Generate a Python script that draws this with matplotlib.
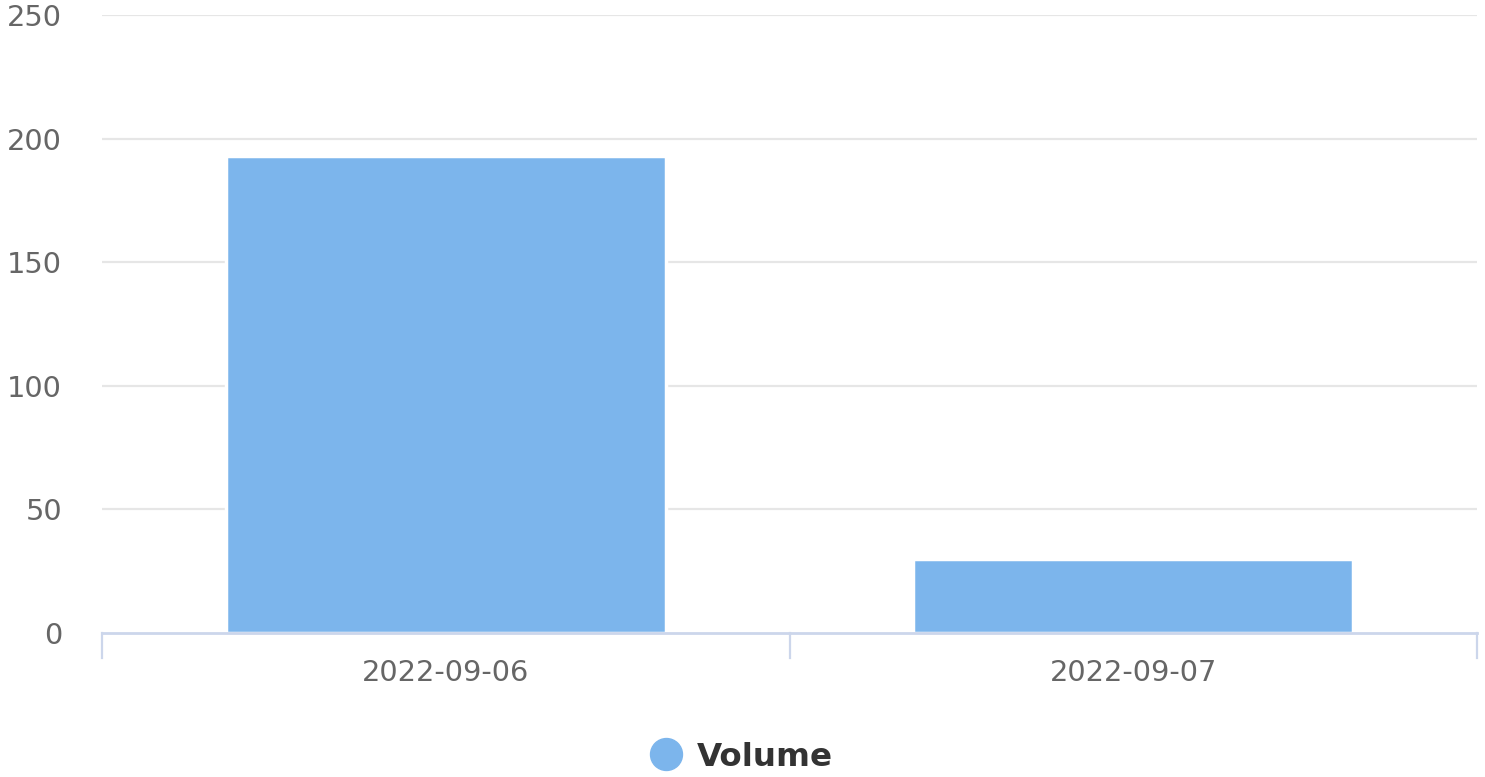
import matplotlib
matplotlib.use("Agg")
import matplotlib.pyplot as plt
import matplotlib.transforms as mtransforms
from matplotlib.lines import Line2D

# ---- data ---------------------------------------------------------------
dates = ["2022-09-06", "2022-09-07"]
volume = [193, 30]
y_ticks = [0, 50, 100, 150, 200, 250]

BAR_COLOR = "#7cb5ec"
GRID_COLOR = "#e6e6e6"
AXIS_COLOR = "#ccd6eb"
LABEL_COLOR = "#666666"

W, H = 1485, 777
fig = plt.figure(figsize=(W / 100, H / 100), dpi=100)
ax = fig.add_axes([102 / W, 1 - 633 / H, (1477 - 102) / W, (633 - 15) / H])

x = list(range(len(dates)))
ax.bar(x, volume, width=0.6407, color=BAR_COLOR, edgecolor="white",
       linewidth=2.5, zorder=2)

ax.set_xlim(-0.5, len(dates) - 0.5)
ax.set_ylim(0, 250)

# gridlines + y labels (drawn by hand, nudged down a few px like highcharts)
ax.set_yticks([])
shift = mtransforms.ScaledTranslation(-40 / 100, -3 / 100, fig.dpi_scale_trans)
for v in y_ticks:
    if v > 0:
        ax.axhline(v, color=GRID_COLOR, linewidth=1.6, zorder=1)
    ax.text(0, v, str(v), transform=ax.get_yaxis_transform() + shift,
            ha="right", va="center", fontsize=20.8, color=LABEL_COLOR)

# x axis: labels at centers, ticks at category boundaries
ax.set_xticks(x)
ax.set_xticklabels(dates)
ax.tick_params(axis="x", length=0, pad=19, labelsize=20.8, labelcolor=LABEL_COLOR)
for b in [-0.5 + i for i in range(len(dates) + 1)]:
    ax.plot([b, b], [0, -0.04], transform=ax.get_xaxis_transform(),
            color=AXIS_COLOR, linewidth=1.6, clip_on=False, zorder=3)

for side in ["left", "right", "top"]:
    ax.spines[side].set_visible(False)
ax.spines["bottom"].set_color(AXIS_COLOR)
ax.spines["bottom"].set_linewidth(2.0)
ax.spines["bottom"].set_zorder(3)

# legend
handle = Line2D([], [], marker="o", linestyle="none", markersize=23,
                markerfacecolor=BAR_COLOR, markeredgecolor=BAR_COLOR)
leg = fig.legend([handle], ["Volume"], loc="center",
                 bbox_to_anchor=(0.499, 1 - 757 / H), frameon=False,
                 handletextpad=0.45, handlelength=1.0,
                 prop={"size": 23.4, "weight": "bold"})
for t in leg.get_texts():
    t.set_color("#333333")

fig.savefig("out.png", dpi=100)
